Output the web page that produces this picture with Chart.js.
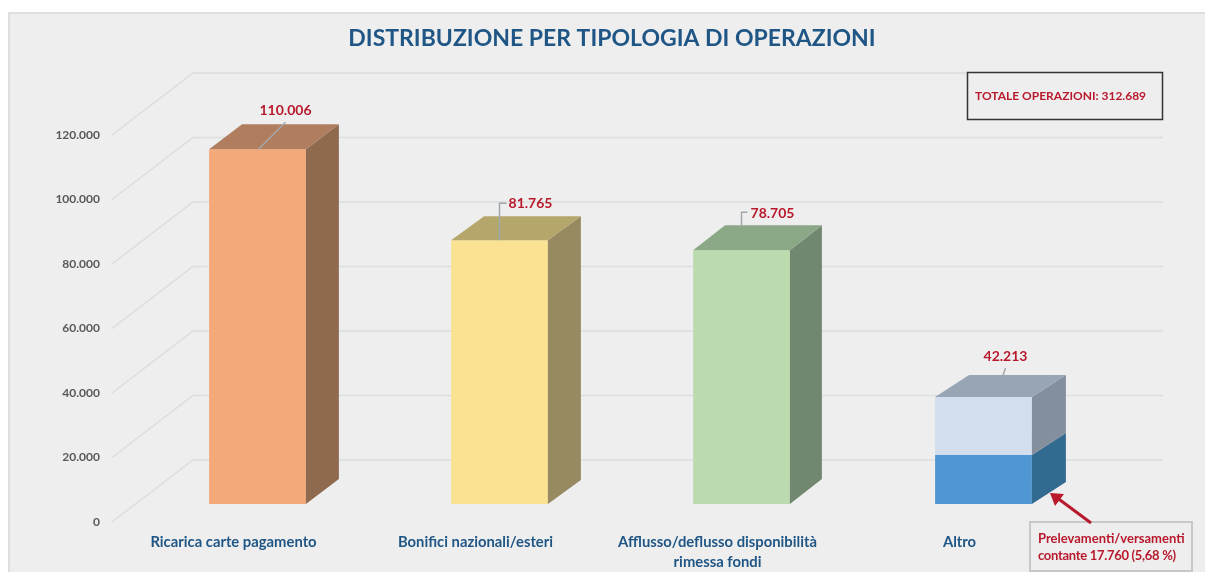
<!DOCTYPE html>
<html>
<head>
<meta charset="utf-8">
<title>Distribuzione per tipologia di operazioni</title>
<script src="https://cdn.jsdelivr.net/npm/chart.js@4/dist/chart.umd.min.js"></script>
<style>
  html, body { margin: 0; background: #fff; }
  canvas { display: block; }
</style>
</head>
<body>
<canvas id="chart" width="1205" height="572"></canvas>
<script>
const categories = ['Ricarica carte pagamento', 'Bonifici nazionali/esteri', ['Afflusso/deflusso disponibilità', 'rimessa fondi'], 'Altro'];
// the Altro column is drawn lower in the picture than its label says, so heights and labels are kept apart
const lowerValues = [110006, 81765, 78705, 15200];
const upperValues = [null, null, null, 18000];
const valueLabels = ['110.006', '81.765', '78.705', '42.213'];
const yTickLabels = ['0', '20.000', '40.000', '60.000', '80.000', '100.000', '120.000'];

const titleText = 'DISTRIBUZIONE PER TIPOLOGIA DI OPERAZIONI';
const totalText = 'TOTALE OPERAZIONI: 312.689';
const calloutLines = ['Prelevamenti/versamenti', 'contante 17.760 (5,68 %)'];

const frontColors = ['#f4a97a', '#fbe192', '#bbdbae', '#5096d2'];
const sideColors = ['#8f6a4f', '#978a60', '#72876f', '#336a90'];
const topColors = ['#b07e5f', '#b5a76c', '#8aa886', '#98a5b4'];
const upperFront = '#d2deed';
const upperSide = '#838f9c';

const red = '#b8192c';
const blue = '#1f5685';
const panelColor = '#eeeeee';
const fontFamily = 'Lato, sans-serif';

// depth of the fake 3D
const barDepth = [[33, 25], [33, 24], [32, 25], [34, 22]];
const gridFront = 18;  // how far the tick labels sit below the bar plane
const gridBack = 44;   // how far the back wall sits above it

// value label centre and leader line, relative to the top middle of each column
const labelOffsets = [[28, -39], [31, -37], [31, -37], [22, -40]];
const leaders = [
  [[1, 0], [28, -27]],
  [[0, 0], [0, -37], [7, -37]],
  [[0, -25], [0, -38], [6, -38]],
  [[19, -20], [22, -29]]
];

const poly = (ctx, pts, fill) => {
  ctx.beginPath();
  pts.forEach((p, i) => i ? ctx.lineTo(p[0], p[1]) : ctx.moveTo(p[0], p[1]));
  ctx.closePath();
  ctx.fillStyle = fill;
  ctx.fill();
};

const panel = {
  id: 'panel',
  beforeDraw(chart) {
    const ctx = chart.ctx;
    ctx.save();
    ctx.fillStyle = panelColor;
    ctx.fillRect(9, 13, 1196, 559);
    ctx.strokeStyle = '#dedede';
    ctx.lineWidth = 2;
    ctx.beginPath();
    ctx.moveTo(9, 572);
    ctx.lineTo(9, 13);
    ctx.lineTo(1205, 13);
    ctx.stroke();
    ctx.restore();
  }
};

// grid on the floor edge and back wall, from the y scale
const wallGrid = {
  id: 'wallGrid',
  beforeDatasetsDraw(chart) {
    const ctx = chart.ctx;
    const yScale = chart.scales.y;
    ctx.save();
    ctx.strokeStyle = '#dcdddd';
    ctx.lineWidth = 1.5;
    yScale.ticks.forEach(t => {
      const y = yScale.getPixelForValue(t.value);
      ctx.beginPath();
      ctx.moveTo(112, y + gridFront);
      ctx.lineTo(193, y - gridBack);
      ctx.lineTo(1163, y - gridBack);
      ctx.stroke();
    });
    ctx.restore();
  }
};

const faces = {
  id: 'faces',
  afterDatasetsDraw(chart) {
    const ctx = chart.ctx;
    const lower = chart.getDatasetMeta(0).data;
    const upper = chart.getDatasetMeta(1).data;
    ctx.save();
    lower.forEach((bar, i) => {
      const [dx, dy] = barDepth[i];
      const topBar = upperValues[i] !== null ? upper[i] : bar;
      const right = bar.x + bar.width / 2;
      const left = bar.x - bar.width / 2;
      poly(ctx, [[right, bar.base], [right + dx, bar.base - dy], [right + dx, bar.y - dy], [right, bar.y]], sideColors[i]);
      if (upperValues[i] !== null) {
        poly(ctx, [[right, bar.y], [right + dx, bar.y - dy], [right + dx, topBar.y - dy], [right, topBar.y]], upperSide);
      }
      poly(ctx, [[left, topBar.y], [left + dx, topBar.y - dy], [right + dx, topBar.y - dy], [right, topBar.y]], topColors[i]);

      // leader line and value label
      ctx.strokeStyle = '#a0a8ad';
      ctx.lineWidth = 1.5;
      ctx.beginPath();
      leaders[i].forEach((p, k) => {
        if (k) ctx.lineTo(bar.x + p[0], topBar.y + p[1]);
        else ctx.moveTo(bar.x + p[0], topBar.y + p[1]);
      });
      ctx.stroke();
      ctx.fillStyle = red;
      ctx.font = 'bold 14px ' + fontFamily;
      ctx.textAlign = 'center';
      ctx.textBaseline = 'middle';
      ctx.fillText(valueLabels[i], bar.x + labelOffsets[i][0], topBar.y + labelOffsets[i][1]);
    });
    ctx.restore();
  }
};

const notes = {
  id: 'notes',
  afterDraw(chart) {
    const ctx = chart.ctx;
    ctx.save();
    // total box
    ctx.fillStyle = panelColor;
    ctx.fillRect(967, 72, 196, 48);
    ctx.strokeStyle = '#333';
    ctx.lineWidth = 1.5;
    ctx.strokeRect(967.5, 72.5, 195, 47);
    ctx.fillStyle = red;
    ctx.font = 'bold 12px ' + fontFamily;
    ctx.textAlign = 'left';
    ctx.textBaseline = 'middle';
    ctx.fillText(totalText, 975, 96);

    // callout box
    ctx.strokeStyle = '#c8c8c8';
    ctx.lineWidth = 2;
    ctx.strokeRect(1030, 522, 162, 49);
    ctx.font = 'bold 13px ' + fontFamily;
    ctx.fillText(calloutLines[0], 1038, 539);
    ctx.letterSpacing = '-0.3px';
    ctx.fillText(calloutLines[1], 1038, 556);
    ctx.letterSpacing = '0px';

    // arrow to the blue part
    ctx.strokeStyle = red;
    ctx.lineWidth = 3;
    ctx.beginPath();
    ctx.moveTo(1091, 523);
    ctx.lineTo(1056, 497);
    ctx.stroke();
    poly(ctx, [[1050, 493], [1064, 494], [1055, 506]], red);
    ctx.restore();
  }
};

new Chart(document.getElementById('chart'), {
  type: 'bar',
  data: {
    labels: categories,
    datasets: [
      { data: lowerValues, backgroundColor: frontColors },
      { data: upperValues, backgroundColor: upperFront }
    ]
  },
  options: {
    responsive: false,
    animation: false,
    layout: { padding: { left: 19 } },
    datasets: { bar: { categoryPercentage: 1, barPercentage: 0.4 } },
    plugins: {
      legend: { display: false },
      tooltip: { enabled: false },
      title: {
        display: true,
        text: titleText,
        color: blue,
        font: { family: fontFamily, size: 23, weight: 'bold' },
        padding: { top: 25, bottom: 64.4 }
      }
    },
    scales: {
      x: {
        stacked: true,
        grid: { display: false, drawTicks: false },
        border: { display: false },
        afterFit(scale) { scale.height = 68; },
        ticks: {
          color: blue,
          font: { family: fontFamily, size: 14.8, weight: 'bold', lineHeight: 1.35 },
          padding: 28,
          labelOffset: -24,
          maxRotation: 0,
          autoSkip: false
        }
      },
      y: {
        stacked: true,
        min: 0,
        max: 120000,
        grid: { display: false, drawTicks: false },
        border: { display: false },
        afterFit(scale) { scale.width = 117.5; },
        ticks: {
          stepSize: 20000,
          color: '#595959',
          font: { family: fontFamily, size: 12, weight: 'bold' },
          padding: 36.5,
          labelOffset: gridFront,
          callback: (v, i) => yTickLabels[i]
        }
      },
      spacer: {
        type: 'linear',
        position: 'right',
        grid: { display: false, drawTicks: false },
        border: { display: false },
        ticks: { display: false },
        afterFit(scale) { scale.width = 100.5; }
      }
    }
  },
  plugins: [panel, wallGrid, faces, notes]
});
</script>
</body>
</html>
